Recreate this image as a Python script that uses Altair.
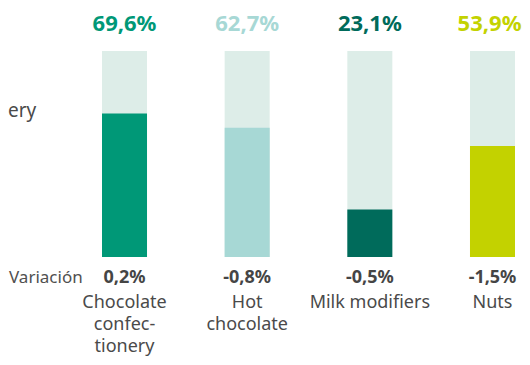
import altair as alt
import pandas as pd

categories = ["Chocolate confectionery", "Hot chocolate", "Milk modifiers", "Nuts"]
cat_lines = ["Chocolate\nconfec-\ntionery", "Hot\nchocolate", "Milk modifiers", "Nuts"]
share = [69.6, 62.7, 23.1, 53.9]
variation = [0.2, -0.8, -0.5, -1.5]
colors = ["#009877", "#a7d8d5", "#006b5b", "#c3d200"]
track_color = "#ddede8"
FONT = "Noto Sans"


def fmt(v):
    return f"{v:.1f}".replace(".", ",") + "%"


df = pd.DataFrame({
    "cat": categories,
    "lines": cat_lines,
    "share": share,
    "full": [100] * len(categories),
    "share_lbl": [fmt(v) for v in share],
    "var_lbl": [fmt(v) for v in variation],
})

xscale = alt.Scale(domain=categories, range=[94, 507], paddingInner=0.633, paddingOuter=0)
yscale = alt.Scale(domain=[0, 100], range=[249, 43])
cscale = alt.Scale(domain=categories, range=colors)

base = alt.Chart(df).encode(x=alt.X("cat:N", sort=categories, scale=xscale, axis=None))

track = base.mark_bar(color=track_color).encode(
    y=alt.Y("full:Q", scale=yscale, axis=None)
)
fill = base.mark_bar().encode(
    y=alt.Y("share:Q", scale=yscale, axis=None),
    color=alt.Color("cat:N", scale=cscale, legend=None),
)
top_lbl = base.mark_text(font=FONT, fontSize=22, fontWeight="bold", baseline="alphabetic").encode(
    y=alt.value(23),
    text="share_lbl:N",
    color=alt.Color("cat:N", scale=cscale, legend=None),
).transform_filter(alt.datum.cat != "Nuts")
top_lbl_last = base.mark_text(font=FONT, fontSize=22, fontWeight="bold", baseline="alphabetic",
                              align="right", dx=29).encode(
    y=alt.value(23),
    text="share_lbl:N",
    color=alt.Color("cat:N", scale=cscale, legend=None),
).transform_filter(alt.datum.cat == "Nuts")
var_lbl = base.mark_text(font=FONT, fontSize=18, fontWeight="bold", baseline="alphabetic", color="#454545").encode(
    y=alt.value(275),
    text="var_lbl:N",
)
cat_lbl = base.mark_text(font=FONT, fontSize=18, baseline="alphabetic", lineBreak="\n", lineHeight=22,
                         color="#4a4a4a").encode(
    y=alt.value(300),
    text="lines:N",
)

side = pd.DataFrame({"t": ["Variación"]})
var_title = alt.Chart(side).mark_text(font=FONT, fontSize=17, align="left", baseline="alphabetic",
                                      color="#505050").encode(
    x=alt.value(1), y=alt.value(275), text="t:N"
)
stray = pd.DataFrame({"t": ["ery"]})
stray_lbl = alt.Chart(stray).mark_text(font=FONT, fontSize=19, align="left", baseline="alphabetic",
                                       color="#4a4a4a").encode(
    x=alt.value(0), y=alt.value(109), text="t:N"
)

chart = alt.layer(track, fill, top_lbl, top_lbl_last, var_lbl, cat_lbl, var_title, stray_lbl).properties(
    width=514, height=349, autosize="none", padding=0
).configure_view(stroke=None)

chart.save("out.html", embed_options={"renderer": "svg", "actions": False})
